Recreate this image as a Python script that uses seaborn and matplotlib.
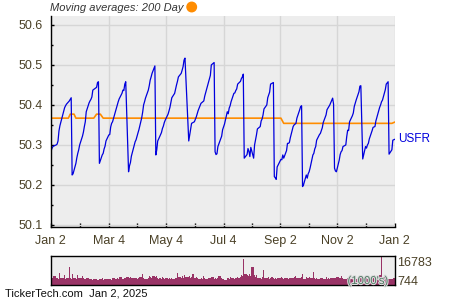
import numpy as np
import pandas as pd
import matplotlib
matplotlib.use("Agg")
import matplotlib.pyplot as plt
import matplotlib.patheffects as pe
from matplotlib.patches import Ellipse
from matplotlib.ticker import MultipleLocator, FixedLocator
import seaborn as sns

plt.rcParams['font.family'] = ['Liberation Sans', 'DejaVu Sans']

# ---------------- data ----------------
holidays = ['2024-01-15', '2024-02-19', '2024-03-29', '2024-05-27', '2024-06-19',
            '2024-07-04', '2024-09-02', '2024-11-28', '2024-12-25']
extra_days = ['2025-01-02']

price_jan = [50.254, 50.288, 50.294, 50.297, 50.300, 50.302, 50.310, 50.335, 50.348, 50.384,
             50.393, 50.398, 50.402, 50.410, 50.414, 50.418, 50.225, 50.228, 50.254, 50.268, 50.279]
price_feb = [50.288, 50.300, 50.322, 50.332, 50.346, 50.358, 50.383, 50.405, 50.410, 50.414,
             50.420, 50.437, 50.444, 50.456, 50.458, 50.254, 50.275, 50.279, 50.290, 50.297]
price_mar = [50.310, 50.325, 50.326, 50.345, 50.354, 50.358, 50.383, 50.392, 50.400, 50.408,
             50.415, 50.429, 50.437, 50.436, 50.452, 50.458, 50.233, 50.248, 50.256, 50.272]
price_apr = [50.308, 50.313, 50.322, 50.330, 50.338, 50.368, 50.382, 50.400, 50.408, 50.417,
             50.437, 50.448, 50.462, 50.470, 50.479, 50.4975, 50.275, 50.288, 50.310, 50.315,
             50.331, 50.341]
price_may = [50.347, 50.356, 50.362, 50.377, 50.385, 50.394, 50.406, 50.418, 50.429, 50.440,
             50.450, 50.459, 50.470, 50.479, 50.487, 50.496, 50.512, 50.517, 50.310, 50.325,
             50.340, 50.354]
price_jun = [50.358, 50.364, 50.370, 50.378, 50.386, 50.404, 50.406, 50.408, 50.410, 50.422,
             50.448, 50.456, 50.474, 50.500, 50.506, 50.283, 50.276, 50.278, 50.296]
price_jul = [50.316, 50.322, 50.338, 50.352, 50.383, 50.378, 50.392, 50.398, 50.408, 50.429,
             50.430, 50.436, 50.440, 50.452, 50.459, 50.466, 50.470, 50.477, 50.267, 50.276,
             50.291, 50.284]
price_aug = [50.271, 50.294, 50.267, 50.300, 50.312, 50.325, 50.340, 50.346, 50.360, 50.365,
             50.375, 50.390, 50.400, 50.418, 50.425, 50.432, 50.452, 50.456, 50.221, 50.218,
             50.214, 50.245]
price_sep = [50.264, 50.263, 50.275, 50.267, 50.286, 50.304, 50.304, 50.306, 50.318, 50.346,
             50.350, 50.352, 50.354, 50.367, 50.388, 50.396, 50.398, 50.196, 50.200, 50.225]
price_oct = [50.217, 50.228, 50.233, 50.242, 50.275, 50.279, 50.290, 50.296, 50.312, 50.326,
             50.329, 50.336, 50.343, 50.356, 50.375, 50.388, 50.392, 50.396, 50.400, 50.417,
             50.402, 50.242, 50.235]
price_nov = [50.233, 50.262, 50.276, 50.283, 50.286, 50.296, 50.300, 50.321, 50.337, 50.336,
             50.358, 50.373, 50.380, 50.396, 50.404, 50.412, 50.433, 50.447, 50.448, 50.265]
price_dec = [50.296, 50.292, 50.300, 50.304, 50.315, 50.336, 50.344, 50.345, 50.346, 50.360,
             50.385, 50.394, 50.400, 50.408, 50.412, 50.438, 50.452, 50.458, 50.277, 50.288,
             50.312]
price_jan25 = [50.314]

vol_jan = [5700, 3600, 4400, 5200, 3900, 4100, 3500, 7000, 4300, 5700, 3800, 3500, 4200, 10700,
           4100, 3800, 6300, 4400, 3700, 5700, 4300]
vol_feb = [4400, 3900, 5200, 4100, 3800, 3600, 4000, 3400, 3700, 3500, 3300, 3600, 3200, 3500,
           3100, 3600, 3900, 3300, 3500, 3800]
vol_mar = [3600, 3400, 3700, 3300, 3900, 4100, 3500, 3800, 4200, 3600, 4700, 3800, 3500, 4300,
           3900, 4600, 3700, 3900, 5000, 4100]
vol_apr = [4000, 4400, 3700, 3900, 4500, 6300, 4200, 3800, 4100, 3700, 4000, 5500, 4600, 3900,
           5300, 4700, 5500, 4000, 3700, 4200, 3600, 4500]
vol_may = [4300, 3800, 4100, 3600, 3900, 3500, 4200, 3700, 4000, 4400, 3800, 7000, 4500, 3900,
           5200, 4400, 5800, 4600, 5300, 4100, 4900, 6300]
vol_jun = [4300, 3900, 4800, 4200, 3700, 4100, 3600, 5100, 4000, 3800, 3500, 4200, 3900, 4600,
           3700, 4100, 3600, 4400, 5600]
vol_jul = [4000, 3700, 3400, 3000, 3900, 4200, 3800, 4500, 4100, 3700, 4300, 3900, 4600, 4200,
           5000, 6000, 5200, 15100, 6400, 5800, 5100, 6200]
vol_aug = [5400, 10700, 6000, 4800, 4400, 5700, 4000, 4300, 3800, 4600, 9000, 4200, 3900, 4500,
           3700, 4100, 4800, 3900, 3600, 4200, 3800, 4400]
vol_sep = [4600, 4000, 3700, 4300, 3800, 4100, 3500, 3900, 4400, 4000, 4700, 5200, 4300, 3900,
           4200, 4800, 6300, 4100, 3800, 4500]
vol_oct = [4200, 3900, 4600, 4100, 7500, 4400, 3800, 4000, 3600, 3400, 4300, 3900, 4100, 3700,
           4500, 3800, 4200, 3600, 3900, 4400, 4000, 4700, 4300]
vol_nov = [4500, 3900, 4200, 5100, 4400, 3800, 3600, 4100, 3900, 4300, 3700, 4000, 3600, 3800,
           4200, 3700, 4400, 4000, 4600, 3200]
vol_dec = [3900, 4300, 3800, 4100, 4500, 4000, 4400, 6000, 4200, 4600, 5700, 5900, 16783, 5600,
           4800, 3900, 2900, 3400, 3800, 3600, 4000]
vol_jan25 = [744]

ma_dates = ['2024-01-02', '2024-01-21', '2024-01-23', '2024-01-27', '2024-01-29',
            '2024-02-17', '2024-02-20', '2024-02-24', '2024-02-27',
            '2024-09-03', '2024-09-06', '2024-12-30', '2025-01-02']
ma_values = [50.367, 50.367, 50.377, 50.377, 50.367,
             50.367, 50.377, 50.377, 50.367,
             50.367, 50.354, 50.354, 50.357]

tick_dates = ['2024-01-02', '2024-03-04', '2024-05-04', '2024-07-04',
              '2024-09-02', '2024-11-02', '2025-01-02']
tick_labels = ['Jan 2', 'Mar 4', 'May 4', 'Jul 4', 'Sep 2', 'Nov 2', 'Jan 2']
y_ticks = [50.1, 50.2, 50.3, 50.4, 50.5, 50.6]
ticker = 'USFR'
vol_max_label = '16783'
vol_min_label = '744'

# ---------------- assemble ----------------
days = pd.bdate_range('2024-01-02', '2024-12-31')
days = days[~days.isin(pd.to_datetime(holidays))].append(pd.to_datetime(extra_days))
prices = (price_jan + price_feb + price_mar + price_apr + price_may + price_jun + price_jul
          + price_aug + price_sep + price_oct + price_nov + price_dec + price_jan25)
vols = (vol_jan + vol_feb + vol_mar + vol_apr + vol_may + vol_jun + vol_jul + vol_aug
        + vol_sep + vol_oct + vol_nov + vol_dec + vol_jan25)
n = min(len(days), len(prices), len(vols))
df = pd.DataFrame({'date': days[:n], 'close': prices[:n], 'volume': vols[:n]})
ma_df = pd.DataFrame({'date': pd.to_datetime(ma_dates), 'ma': ma_values})

W, H = 450, 300
label_col = '#4a4026'
bg = '#ededed'
grid_col = '#d6d6d6'

fig = plt.figure(figsize=(4.5, 3), dpi=100)
fig.patch.set_facecolor('white')

# main axes
ax = fig.add_axes([50.5 / W, 1 - 227 / H, 344.2 / W, 211.3 / H])
ax.set_facecolor(bg)
ax.set_axisbelow(True)
sns.lineplot(data=ma_df, x='date', y='ma', ax=ax, color='#ff8c00', lw=1.2, legend=False)
sns.lineplot(data=df, x='date', y='close', ax=ax, color='#0000dd', lw=0.9, legend=False)

t0, t1 = pd.Timestamp(tick_dates[0]), pd.Timestamp(tick_dates[-1])
ax.set_xlim(t0, t1)
ax.set_ylim(50.095, 50.623)
tdt = pd.to_datetime(tick_dates)
ax.set_xticks(tdt)
ax.set_xticklabels(tick_labels)
mids = [tdt[i] + (tdt[i + 1] - tdt[i]) / 2 for i in range(len(tdt) - 1)]
ax.xaxis.set_minor_locator(FixedLocator(matplotlib.dates.date2num(mids)))
ax.set_yticks(y_ticks)
ax.set_yticklabels([f'{v:.1f}' for v in y_ticks])
ax.yaxis.set_minor_locator(MultipleLocator(0.05))
ax.set_xlabel('')
ax.set_ylabel('')
ax.grid(True, which='major', color=grid_col, lw=1)
for s in ['top', 'right']:
    ax.spines[s].set_visible(False)
for s in ['left', 'bottom']:
    ax.spines[s].set_color('black')
    ax.spines[s].set_linewidth(1)
ax.tick_params(axis='y', which='major', direction='in', length=2.2, width=1,
               labelsize=9, labelcolor=label_col, pad=5.5)
ax.tick_params(axis='y', which='minor', direction='in', length=1.5, width=1)
ax.tick_params(axis='x', which='both', direction='in', length=3, width=1,
               labelsize=9, labelcolor=label_col, pad=6)

ax.annotate(ticker, xy=(1, prices[n - 1]), xycoords=('axes fraction', 'data'),
            xytext=(2.5, 0), textcoords='offset points', va='center', ha='left',
            color='#0000dd', fontsize=8.5, annotation_clip=False)

# title + dot
fig.text(50 / W, 1 - 8 / H, 'Moving averages: 200 Day', style='italic', fontsize=8,
         color='#333333', va='center', ha='left')
fig.add_artist(Ellipse((191.7 / W, 1 - 7 / H), 9.5 / W, 9.5 / H,
                       transform=fig.transFigure, color='#ff8c00'))

# volume axes
ax2 = fig.add_axes([50.5 / W, 1 - 285.3 / H, 344.2 / W, 29.3 / H])
ax2.set_facecolor(bg)
ax2.fill_between(df['date'], df['volume'], step='post', color='#993366', lw=0)
ax2.set_xlim(t0, t1)
ax2.set_ylim(0, 16783)
ax2.set_xticks([])
ax2.set_yticks([])
for s in ax2.spines.values():
    s.set_color('black')
    s.set_linewidth(1)

fig.text(397.5 / W, 1 - 262.5 / H, vol_max_label, fontsize=9, color=label_col,
         va='center', ha='left')
fig.text(397.5 / W, 1 - 282 / H, vol_min_label, fontsize=9, color=label_col,
         va='center', ha='left')
fig.text(347.5 / W, 1 - 281 / H, "(1000's)", fontsize=8.2, color='#4f7763',
         va='center', ha='left',
         path_effects=[pe.withStroke(linewidth=1.5, foreground='#dcdcdc')])

fig.text(5 / W, 1 - 294 / H, 'TickerTech.com  Jan 2, 2025', fontsize=8,
         color='#111111', va='center', ha='left')

fig.savefig('out.png', dpi=100)
